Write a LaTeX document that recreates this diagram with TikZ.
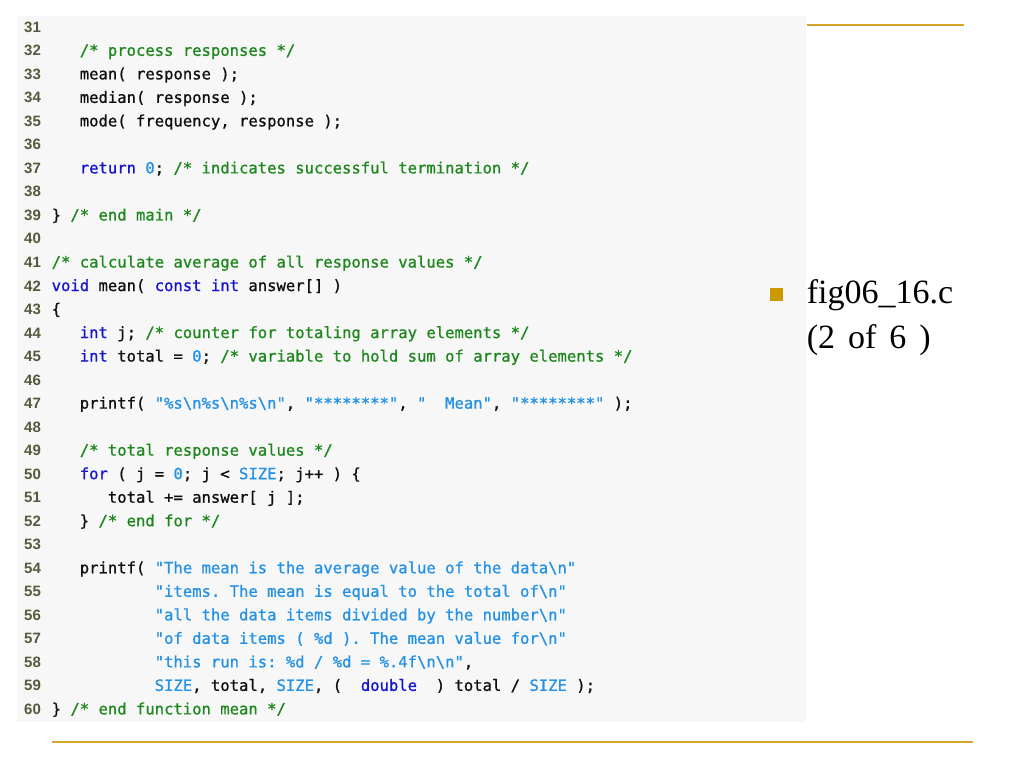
\documentclass[tikz,border=0pt]{standalone}
\usepackage{fontspec}
\setmainfont{Liberation Serif}
\setmonofont{DejaVu Sans Mono}[FakeBold=0.9]
\newfontfamily\numfont{Liberation Sans}
\usetikzlibrary{positioning}

\definecolor{panelgray}{RGB}{247,247,247}
\definecolor{rulegold}{RGB}{212,165,40}
\definecolor{bulletgold}{RGB}{204,153,0}
\definecolor{cmtgreen}{RGB}{30,135,30}
\definecolor{kwblue}{RGB}{20,20,210}
\definecolor{litblue}{RGB}{35,145,230}
\definecolor{numgray}{RGB}{88,88,62}
\definecolor{codeblack}{RGB}{15,15,15}

\newcommand{\cmt}[1]{\textcolor{cmtgreen}{#1}}
\newcommand{\kw}[1]{\textcolor{kwblue}{#1}}
\newcommand{\lit}[1]{\textcolor{litblue}{#1}}
\newcommand{\bs}{\textbackslash}
\newcommand{\codeind}[1]{\hspace*{#1\fontdimen2\font}}

\tikzset{
  lnum/.style={anchor=base west, inner sep=0pt, text=numgray,
    font=\numfont\bfseries\fontsize{15}{17}\selectfont},
  code/.style={anchor=base west, inner sep=0pt, text=codeblack,
    font=\ttfamily\fontsize{15.56}{18}\selectfont},
  rule/.style={draw=rulegold, line width=2pt},
  bullet/.style={fill=bulletgold, minimum size=13pt, inner sep=0pt},
  item/.style={anchor=base west, inner sep=0pt, text=black,
    font=\fontsize{34}{40}\selectfont}
}

\begin{document}
\begin{tikzpicture}[x=1pt,y=-1pt]
    \useasboundingbox (0,0) rectangle (1024,768);
    \fill[panelgray] (17,16) rectangle (806,722);
    \draw[rule] (806.7,25) -- (964,25);
    \draw[rule] (51.7,742.3) -- (972.7,742.3);
    % line numbers
    \foreach \i in {31,...,60}
    \node[lnum] (n\i) at (24,{32.3+(\i-31)*23.52}) {\i};
    \coordinate (col) at (51.5,0);
    % code lines
    \node[code] (c32) at (col |- n32.base) {\codeind{3}\cmt{/* process responses */}};
    \node[code] (c33) at (col |- n33.base) {\codeind{3}mean( response );};
    \node[code] (c34) at (col |- n34.base) {\codeind{3}median( response );};
    \node[code] (c35) at (col |- n35.base) {\codeind{3}mode( frequency, response );};
    \node[code] (c37) at (col |- n37.base) {\codeind{3}\kw{return} \lit{0}; \cmt{/* indicates successful termination */}};
    \node[code] (c39) at (col |- n39.base) {\} \cmt{/* end main */}};
    \node[code] (c41) at (col |- n41.base) {\cmt{/* calculate average of all response values */}};
    \node[code] (c42) at (col |- n42.base) {\kw{void} mean( \kw{const} \kw{int} answer[] )};
    \node[code] (c43) at (col |- n43.base) {\{};
    \node[code] (c44) at (col |- n44.base) {\codeind{3}\kw{int} j; \cmt{/* counter for totaling array elements */}};
    \node[code] (c45) at (col |- n45.base) {\codeind{3}\kw{int} total = \lit{0}; \cmt{/* variable to hold sum of array elements */}};
    \node[code] (c47) at (col |- n47.base) {\codeind{3}printf( \lit{"\%s\bs n\%s\bs n\%s\bs n"}, \lit{"********"}, \lit{"\ \ Mean"}, \lit{"********"} );};
    \node[code] (c49) at (col |- n49.base) {\codeind{3}\cmt{/* total response values */}};
    \node[code] (c50) at (col |- n50.base) {\codeind{3}\kw{for} ( j = \lit{0}; j < \lit{SIZE}; j++ ) \{};
    \node[code] (c51) at (col |- n51.base) {\codeind{6}total += answer[ j ];};
    \node[code] (c52) at (col |- n52.base) {\codeind{3}\} \cmt{/* end for */}};
    \node[code] (c54) at (col |- n54.base) {\codeind{3}printf( \lit{"The mean is the average value of the data\bs n"}};
    \node[code] (c55) at (col |- n55.base) {\codeind{11}\lit{"items. The mean is equal to the total of\bs n"}};
    \node[code] (c56) at (col |- n56.base) {\codeind{11}\lit{"all the data items divided by the number\bs n"}};
    \node[code] (c57) at (col |- n57.base) {\codeind{11}\lit{"of data items ( \%d ). The mean value for\bs n"}};
    \node[code] (c58) at (col |- n58.base) {\codeind{11}\lit{"this run is: \%d / \%d = \%.4f\bs n\bs n"},};
    \node[code] (c59) at (col |- n59.base) {\codeind{11}\lit{SIZE}, total, \lit{SIZE}, (\ \ \kw{double}\ \ ) total / \lit{SIZE} );};
    \node[code] (c60) at (col |- n60.base) {\} \cmt{/* end function mean */}};
    % file label
    \node[bullet] (blt) at (776.5,294.5) {};
    \node[item] (file) at (806.7,303.3) {fig06\_16.c};
    \node[item] (part) at ([yshift=-45pt]file.base west) {\spaceskip=0.38em (2 of 6 )};
\end{tikzpicture}
\end{document}
